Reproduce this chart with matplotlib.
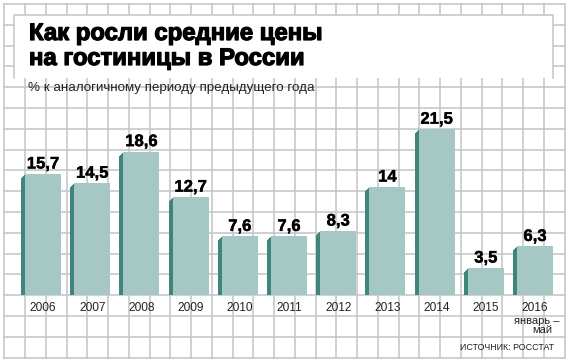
import matplotlib
matplotlib.use("Agg")
import matplotlib.pyplot as plt
import matplotlib.patheffects as pe
from matplotlib import font_manager as fm
from matplotlib.transforms import offset_copy

# данные
years = ["2006", "2007", "2008", "2009", "2010", "2011", "2012", "2013", "2014", "2015", "2016"]
values = [15.7, 14.5, 18.6, 12.7, 7.6, 7.6, 8.3, 14, 21.5, 3.5, 6.3]
labels = ["15,7", "14,5", "18,6", "12,7", "7,6", "7,6", "8,3", "14", "21,5", "3,5", "6,3"]

title = ["Как росли средние цены", "на гостиницы в России"]
subtitle = "% к аналогичному периоду предыдущего года"
note_2016 = ["январь –", "май"]
source = "ИСТОЧНИК: РОССТАТ"

FRONT = "#a6c8c4"
SIDE = "#3f857b"
GRID = "#c4c4c4"

installed = {f.name for f in fm.fontManager.ttflist}
narrow = "Liberation Sans Narrow" if "Liberation Sans Narrow" in installed else "Liberation Sans"
heavy = [pe.withStroke(linewidth=0.9, foreground="black")]

W, H = 570, 363
fig = plt.figure(figsize=(W / 100, H / 100), dpi=100)

# фон в пикселях
bg = fig.add_axes([0, 0, 1, 1])
bg.set_xlim(0, W)
bg.set_ylim(H, 0)
bg.axis("off")

# клетка
cw, ch = 20.75, 20.8
x0g, y0g = 4.25, 4.0
nx, ny = 27, 17
for k in range(nx + 1):
    x = x0g + k * cw
    bg.plot([x, x], [y0g, y0g + ny * ch], color=GRID, lw=1.1, zorder=1)
for k in range(ny + 1):
    y = y0g + k * ch
    bg.plot([x0g, x0g + nx * cw], [y, y], color=GRID, lw=1.1, zorder=1)

# белая плашка под заголовком
bx0, bx1, by0, by1 = 14, 553, 15, 78
bg.add_patch(plt.Rectangle((bx0, by0), bx1 - bx0, by1 - by0, facecolor="white",
                           edgecolor="none", zorder=2))
bg.plot([bx0, bx0, bx1, bx1], [by1, by0, by0, by1], color=GRID, lw=1.1, zorder=3)

for yb, line in zip([40, 65], title):
    bg.text(29, yb, line, fontsize=17.2, fontweight="bold", family="Liberation Sans",
            ha="left", va="baseline", zorder=4, path_effects=heavy)
bg.text(28, 91, subtitle, fontsize=9.6, family=narrow, ha="left", va="baseline",
        color="#222222", zorder=4)
bg.text(554, 350, source, fontsize=6.4, family=narrow, ha="right", va="baseline",
        color="#222222", zorder=4)

# столбики
ax = fig.add_axes([18.4 / W, 68 / H, 541.2 / W, 192.75 / H])
ax.set_xlim(-0.5, 10.5)
ax.set_ylim(0, 25)
ax.axis("off")
ax.patch.set_alpha(0)

xs = list(range(len(years)))
bw = 0.73
for k in range(1, 5):
    tr = offset_copy(ax.transData, fig=fig, x=-k, y=-k, units="dots")
    ax.bar(xs, values, width=bw, color=SIDE, transform=tr, zorder=2)
ax.bar(xs, values, width=bw, color=FRONT, zorder=3)

for x, v, lab, yr in zip(xs, values, labels, years):
    ax.annotate(lab, (x, v), xytext=(0, 10), textcoords="offset pixels",
                ha="center", va="center", fontsize=12, fontweight="bold",
                family="Liberation Sans", annotation_clip=False,
                path_effects=[pe.withStroke(linewidth=0.3, foreground="black")])
    ax.annotate(yr, (x, 0), xytext=(0, -13), textcoords="offset pixels",
                ha="center", va="center", fontsize=8.6, family=narrow,
                color="#222222", annotation_clip=False)

ax.annotate(note_2016[0], (xs[-1], 0), xytext=(2, -26), textcoords="offset pixels",
            ha="center", va="center", fontsize=8, family=narrow, color="#222222",
            annotation_clip=False)
ax.annotate(note_2016[1], (xs[-1], 0), xytext=(7, -35), textcoords="offset pixels",
            ha="center", va="center", fontsize=8, family=narrow, color="#222222",
            annotation_clip=False)

fig.savefig("out.png", dpi=100)
